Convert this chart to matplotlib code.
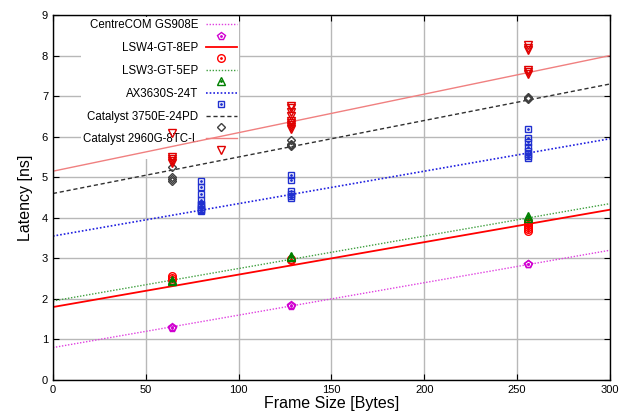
import matplotlib
matplotlib.use("Agg")
import matplotlib.pyplot as plt
import numpy as np

plt.rcParams['font.family'] = ['Liberation Sans', 'DejaVu Sans']

labels = ["CentreCOM GS908E", "LSW4-GT-8EP", "LSW3-GT-5EP", "AX3630S-24T",
          "Catalyst 3750E-24PD", "Catalyst 2960G-8TC-L"]

# measured points
centre_x = [64, 64, 128, 128, 256, 256]
centre_y = [1.29, 1.31, 1.82, 1.84, 2.85, 2.87]
lsw4_x = [64, 64, 64, 128, 128, 256, 256, 256, 256, 256, 256]
lsw4_y = [2.47, 2.52, 2.56, 2.96, 2.99, 3.67, 3.72, 3.77, 3.82, 3.87, 3.90]
lsw3_x = [64, 64, 128, 128, 256, 256]
lsw3_y = [2.44, 2.47, 3.04, 3.07, 4.00, 4.05]
ax_x = [80] * 10 + [128] * 6 + [256] * 8
ax_y = [4.90, 4.75, 4.60, 4.45, 4.35, 4.31, 4.27, 4.23, 4.20, 4.17,
        5.05, 4.93, 4.65, 4.60, 4.55, 4.50,
        6.20, 5.98, 5.86, 5.74, 5.65, 5.58, 5.52, 5.48]
c3750_x = [64] * 4 + [128] * 4 + [256] * 3
c3750_y = [5.25, 5.00, 4.95, 4.92, 5.93, 5.82, 5.79, 5.77, 6.99, 6.96, 6.94]
c2960_x = [64] * 5 + [128] * 9 + [256] * 6
c2960_y = [6.10, 5.50, 5.45, 5.40, 5.35,
           6.75, 6.70, 6.60, 6.50, 6.40, 6.35, 6.30, 6.25, 6.20,
           8.25, 8.20, 8.15, 7.65, 7.60, 7.55]

# fitted lines: intercept, slope
intercepts = [0.80, 1.80, 1.95, 3.55, 4.60, 5.15]
slopes = [0.0080, 0.0080, 0.0080, 0.0080, 0.0090, 0.0095]

xs_list = [centre_x, lsw4_x, lsw3_x, ax_x, c3750_x, c2960_x]
ys_list = [centre_y, lsw4_y, lsw3_y, ax_y, c3750_y, c2960_y]

line_colors = ['#e040e0', '#ff0000', '#40a040', '#2020e0', '#303030', '#f08080']
line_styles = [(0, (1, 1.2)), '-', (0, (1, 1.2)), (0, (1, 1.2)), (0, (3, 2)), '-']
line_widths = [1.0, 1.3, 1.0, 1.2, 1.0, 1.0]
mark_colors = ['#d000d0', '#ff0000', '#008000', '#2030d0', '#404040', '#e00000']
markers = ['p', 'o', '^', 's', 'D', 'v']
dots = [True, True, True, True, False, False]
msizes = [5.5, 5.5, 5.5, 5.0, 4.5, 5.5]

fig = plt.figure(figsize=(6.3, 4.19), dpi=100)
ax = fig.add_axes([0.084, 0.093, 0.884, 0.871])
ax.set_xlim(0, 300)
ax.set_ylim(0, 9)
ax.set_xticks(np.arange(0, 301, 50))
ax.set_yticks(np.arange(0, 10, 1))
ax.grid(True, color='#b8b8b8', linewidth=1.0, linestyle='-', zorder=0.5)
ax.set_axisbelow(True)
ax.tick_params(direction='in', top=True, right=True, labelsize=8, length=4, width=0.8)
for s in ax.spines.values():
    s.set_linewidth(1.0)

xline = np.array([0, 300])
handles = []
hlabels = []
for i in range(6):
    yline = intercepts[i] + slopes[i] * xline
    ln, = ax.plot(xline, yline, color=line_colors[i], linestyle=line_styles[i],
                  linewidth=line_widths[i], zorder=2)
    mk, = ax.plot(xs_list[i], ys_list[i], linestyle='none', marker=markers[i],
                  markersize=msizes[i], markerfacecolor='none',
                  markeredgecolor=mark_colors[i], markeredgewidth=1.0, zorder=3)
    if dots[i]:
        dt, = ax.plot(xs_list[i], ys_list[i], linestyle='none', marker='.',
                      markersize=2, color=mark_colors[i], zorder=3)
        mh = (mk, dt)
    else:
        mh = mk
    handles += [ln, mh]
    hlabels += [labels[i], " "]

leg = ax.legend(handles, hlabels, loc='upper right', bbox_to_anchor=(0.334, 0.995),
                markerfirst=False, fontsize=8.3, frameon=True, framealpha=1.0,
                edgecolor='none', facecolor='white', fancybox=False,
                labelspacing=-0.05, handlelength=2.7, handletextpad=0.6,
                borderaxespad=0.0, borderpad=0.2, numpoints=1)
leg.set_zorder(1.5)

ax.set_xlabel("Frame Size [Bytes]", fontsize=11.5, labelpad=1)
ax.set_ylabel("Latency [ns]", fontsize=11.5, labelpad=6)

fig.savefig("out.png", dpi=100)
